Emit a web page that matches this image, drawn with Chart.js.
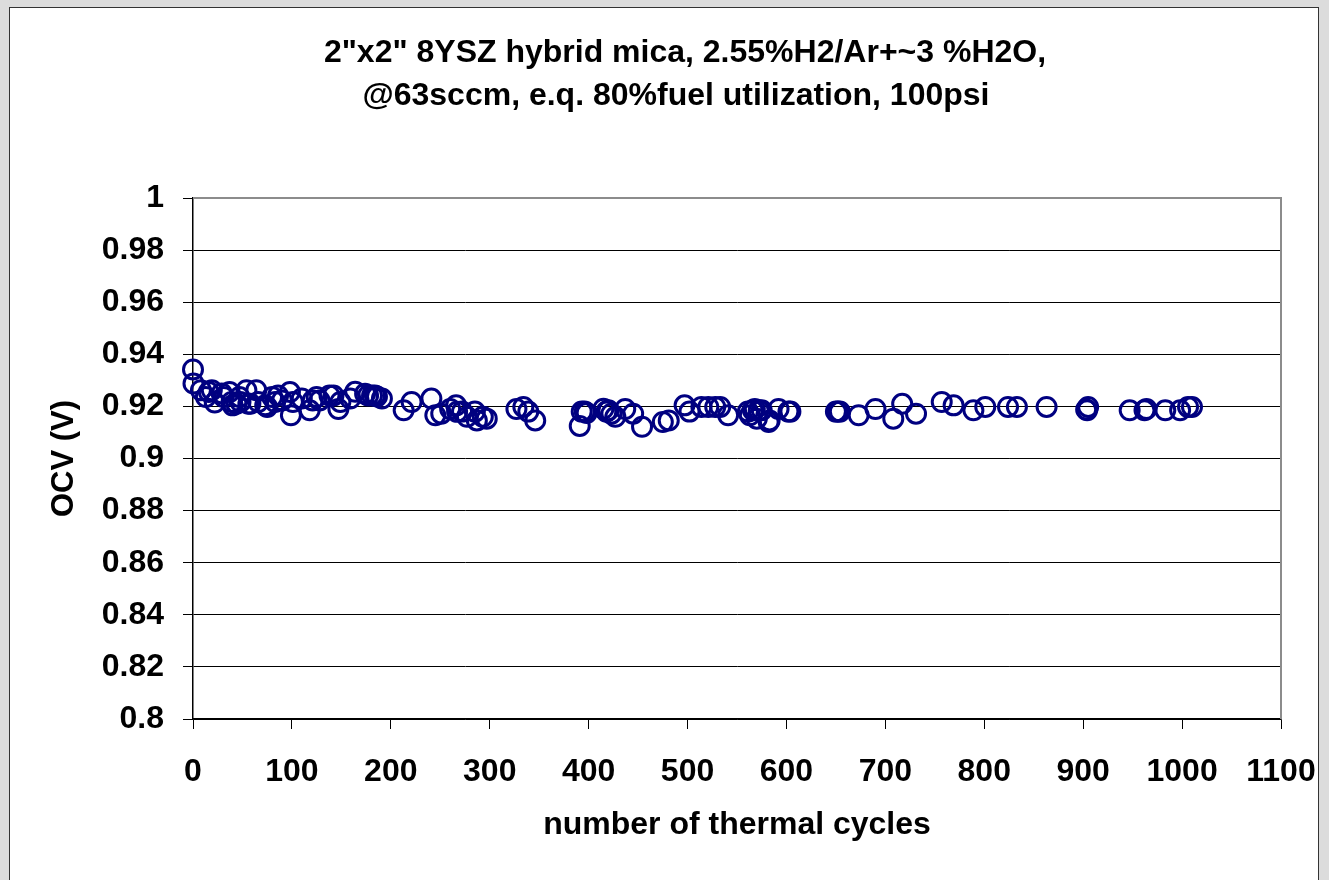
<!DOCTYPE html>
<html>
<head>
<meta charset="utf-8">
<script src="https://cdn.jsdelivr.net/npm/chart.js@4/dist/chart.umd.min.js"></script>
<style>
  html, body { margin: 0; padding: 0; background: #dcdcdc; }
  #wrap { width: 1329px; height: 880px; position: relative; }
</style>
</head>
<body>
<div id="wrap"><canvas id="c" width="1329" height="880"></canvas></div>
<script>
// ---- data ----
const cycles = [0, 0.5, 8, 13, 16, 19, 22, 29, 31, 37, 39, 40, 44, 47, 48, 54, 56, 58, 64, 66, 73, 75, 80, 83, 86, 90, 98, 99, 101, 110, 118, 121, 125, 128, 138, 142, 147, 149, 159, 164, 174, 177, 181, 184, 186, 191, 213, 221, 241, 245, 251, 260, 266, 267, 272, 277, 285, 287, 293, 297, 327, 334, 339, 346, 391, 393, 396, 398, 415, 418, 420, 423, 427, 437, 445, 454, 475, 481, 497, 502, 514, 521, 528, 533, 541, 561, 563, 566, 568, 570, 572, 575, 582, 583, 592, 602, 604, 650, 652, 654, 673, 690, 708, 717, 731, 757, 769, 789, 801, 824, 833, 863, 903, 904, 905, 947, 962, 964, 983, 998, 1006, 1010];
const ocv = [0.9342, 0.9288, 0.9262, 0.9236, 0.9255, 0.9262, 0.9215, 0.9250, 0.9236, 0.9255, 0.9217, 0.9204, 0.9210, 0.9236, 0.9217, 0.9262, 0.9210, 0.9210, 0.9262, 0.9217, 0.9204, 0.9198, 0.9236, 0.9217, 0.9242, 0.9223, 0.9255, 0.9166, 0.9217, 0.9230, 0.9185, 0.9223, 0.9236, 0.9223, 0.9242, 0.9242, 0.9190, 0.9217, 0.9230, 0.9256, 0.9249, 0.9242, 0.9242, 0.9242, 0.9238, 0.9230, 0.9185, 0.9217, 0.9230, 0.9166, 0.9172, 0.9190, 0.9204, 0.9179, 0.9180, 0.9160, 0.9180, 0.9146, 0.9160, 0.9153, 0.9190, 0.9198, 0.9180, 0.9146, 0.9125, 0.9180, 0.9180, 0.9175, 0.9191, 0.9180, 0.9185, 0.9172, 0.9160, 0.9190, 0.9172, 0.9122, 0.9140, 0.9146, 0.9204, 0.9180, 0.9198, 0.9198, 0.9198, 0.9198, 0.9166, 0.9180, 0.9166, 0.9185, 0.9190, 0.9153, 0.9185, 0.9185, 0.9140, 0.9146, 0.9190, 0.9180, 0.9180, 0.9180, 0.9180, 0.9180, 0.9166, 0.9190, 0.9153, 0.9210, 0.9172, 0.9217, 0.9204, 0.9185, 0.9198, 0.9198, 0.9198, 0.9198, 0.9188, 0.9185, 0.9198, 0.9185, 0.9185, 0.9190, 0.9185, 0.9185, 0.9198, 0.9198];
const titleLines = ['2"x2" 8YSZ hybrid mica, 2.55%H2/Ar+~3 %H2O,', '@63sccm, e.q. 80%fuel utilization, 100psi'];
const xTitle = 'number of thermal cycles';
const yTitle = 'OCV (V)';
const xMin = 0, xMax = 1100, xStep = 100;
const yMin = 0.8, yMax = 1.0, yStep = 0.02;

const FONT = '"Liberation Sans", Arial, sans-serif';
const points = cycles.map((c, i) => ({ x: c, y: ocv[i] }));

const framePlugin = {
  id: 'frame',
  beforeDraw(chart) {
    const ctx = chart.ctx;
    ctx.save();
    ctx.fillStyle = '#dcdcdc';
    ctx.fillRect(0, 0, chart.width, chart.height);
    ctx.fillStyle = '#ffffff';
    ctx.fillRect(9.5, 7.5, 1309, 880);
    ctx.strokeStyle = '#333333';
    ctx.lineWidth = 1;
    ctx.strokeRect(9.5, 7.5, 1309, 880);
    // title
    ctx.fillStyle = '#000';
    ctx.font = 'bold 32px ' + FONT;
    ctx.textAlign = 'center';
    ctx.textBaseline = 'middle';
    ctx.fillText(titleLines[0], 685, 53);
    ctx.fillText(titleLines[1], 676, 96);
    ctx.restore();
  },
  beforeDatasetsDraw(chart) {
    const a = chart.chartArea;
    const ctx = chart.ctx;
    ctx.save();
    ctx.strokeStyle = '#8c8c8c';
    ctx.lineWidth = 2;
    ctx.beginPath();
    ctx.moveTo(a.left, a.top);
    ctx.lineTo(a.right, a.top);
    ctx.lineTo(a.right, a.bottom);
    ctx.stroke();
    ctx.restore();
  }
};

new Chart(document.getElementById('c'), {
  type: 'scatter',
  data: {
    datasets: [{
      data: points,
      pointStyle: 'circle',
      pointRadius: 9.5,
      pointHoverRadius: 9.5,
      pointBorderWidth: 3,
      borderColor: '#000080',
      backgroundColor: 'rgba(0,0,0,0)',
      showLine: false,
      clip: false
    }]
  },
  options: {
    responsive: false,
    animation: false,
    devicePixelRatio: 1,
    layout: { padding: { left: 0, right: 48, top: 198, bottom: 0 } },
    plugins: { legend: { display: false }, tooltip: { enabled: false }, title: { display: false } },
    scales: {
      x: {
        type: 'linear',
        min: xMin, max: xMax,
        afterFit(s) { s.height = 161; s.paddingLeft = 0; s.paddingRight = 0; },
        ticks: { stepSize: xStep, color: '#000', padding: 24, maxRotation: 0, font: { family: FONT, size: 32, weight: 'bold' },
          callback: v => String(v) },
        grid: { drawOnChartArea: false, drawTicks: true, tickLength: 10, color: '#000', lineWidth: 1 },
        border: { display: true, color: '#000', width: 1.5 },
        title: { display: true, text: xTitle, color: '#000', padding: { top: 0, bottom: 36 }, font: { family: FONT, size: 32, weight: 'bold' } }
      },
      y: {
        type: 'linear',
        min: yMin, max: yMax,
        afterFit(s) { s.width = 193; s.paddingTop = 0; s.paddingBottom = 0; },
        ticks: { stepSize: yStep, color: '#000', padding: 19, font: { family: FONT, size: 32, weight: 'bold' },
          callback: v => String(parseFloat(v.toFixed(2))) },
        grid: { drawOnChartArea: true, drawTicks: true, tickLength: 10, color: '#000', lineWidth: 1 },
        border: { display: true, color: '#000', width: 1.5 },
        title: { display: true, text: yTitle, color: '#000', padding: { top: 46, bottom: 0 }, font: { family: FONT, size: 31, weight: 'bold' } }
      }
    }
  },
  plugins: [framePlugin]
});
</script>
</body>
</html>
